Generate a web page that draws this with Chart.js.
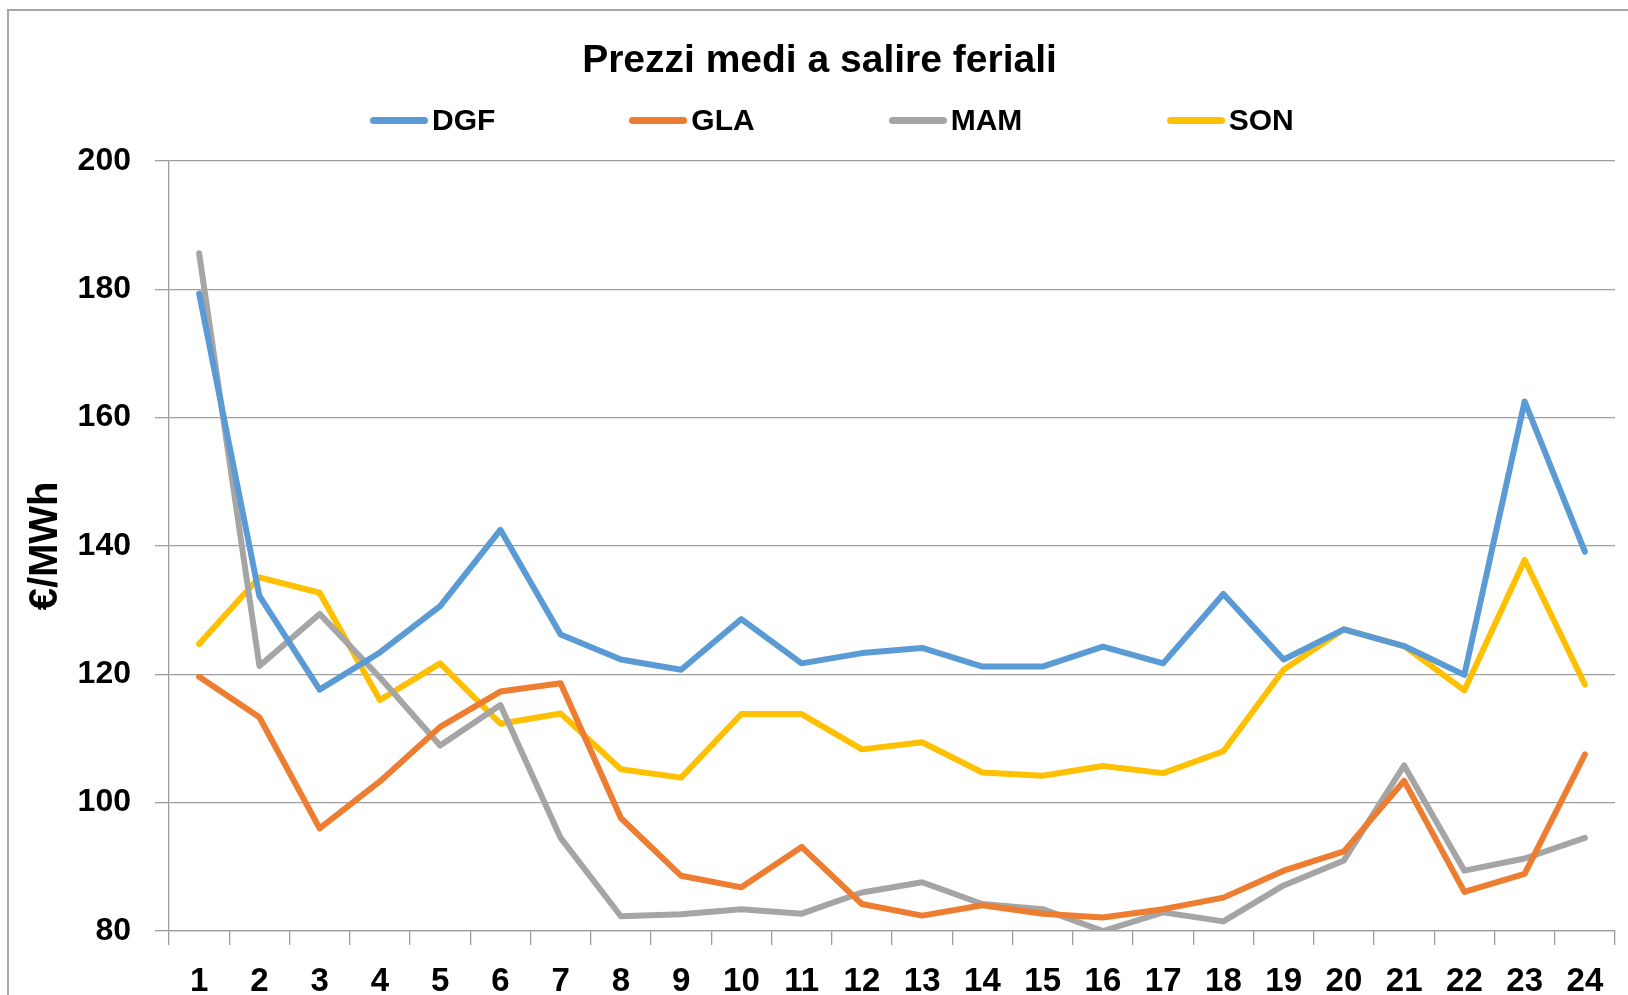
<!DOCTYPE html>
<html>
<head>
<meta charset="utf-8">
<script src="https://cdn.jsdelivr.net/npm/chart.js@4.4.1/dist/chart.umd.min.js"></script>
<style>
  html, body { margin: 0; padding: 0; background: #ffffff; }
  #wrap { position: relative; width: 1628px; height: 995px; overflow: hidden; }
  #legend { position: absolute; left: 370px; top: 105px; display: flex; gap: 134px; align-items: center;
            font-family: "Liberation Sans", Arial, sans-serif; font-weight: bold; font-size: 30px; color: #000; }
  .item { display: flex; align-items: center; gap: 4px; line-height: 1; }
  .item:nth-child(3) .txt { min-width: 82px; }
  .swatch { width: 58px; height: 7px; border-radius: 4px; }
</style>
</head>
<body>
<div id="wrap">
  <canvas id="c" width="1628" height="995"></canvas>
  <div id="legend"></div>
</div>
<script>
const hours = ['1','2','3','4','5','6','7','8','9','10','11','12','13','14','15','16','17','18','19','20','21','22','23','24'];
const seriesNames = ['DGF', 'GLA', 'MAM', 'SON'];
const seriesColors = ['#5B9BD5', '#ED7D31', '#A5A5A5', '#FFC000'];
const dgf = [179.3, 132.2, 117.6, 123.4, 130.6, 142.5, 126.2, 122.3, 120.7, 128.6, 121.7, 123.3, 124.1, 121.2, 121.2, 124.3, 121.7, 132.5, 122.3, 127.0, 124.4, 119.9, 162.5, 139.1];
const gla = [119.6, 113.3, 96.0, 103.3, 111.8, 117.3, 118.6, 97.6, 88.6, 86.8, 93.1, 84.2, 82.4, 84.0, 82.7, 82.1, 83.4, 85.2, 89.4, 92.4, 103.4, 86.1, 88.9, 107.5];
const mam = [185.6, 121.3, 129.4, 119.5, 108.9, 115.2, 94.5, 82.3, 82.6, 83.4, 82.7, 86.0, 87.6, 84.2, 83.4, 80.0, 82.9, 81.5, 87.1, 91.0, 105.8, 89.4, 91.3, 94.5];
const son = [124.7, 135.1, 132.7, 116.0, 121.7, 112.3, 113.9, 105.2, 103.9, 113.8, 113.8, 108.3, 109.4, 104.7, 104.2, 105.7, 104.6, 108.0, 120.7, 127.0, 124.4, 117.5, 137.8, 118.4];
const yMin = 80, yMax = 200, yStep = 20;
const titleText = 'Prezzi medi a salire feriali';
const yTitle = '€/MWh';

const seriesValues = [dgf, gla, mam, son];
const gridColor = '#9e9e9e';

const frame = {
  id: 'frame',
  afterDraw(chart) {
    const ctx = chart.ctx;
    ctx.save();
    ctx.strokeStyle = '#a6a6a6';
    ctx.lineWidth = 2;
    ctx.strokeRect(8, 10, 3000, 3000);
    ctx.restore();
  }
};

const chart = new Chart(document.getElementById('c'), {
  type: 'line',
  data: {
    labels: hours,
    datasets: seriesNames.map((n, i) => ({
      label: n,
      data: seriesValues[i],
      borderColor: seriesColors[i],
      backgroundColor: seriesColors[i],
      borderWidth: 6,
      pointRadius: 0,
      pointHoverRadius: 0,
      tension: 0,
      borderCapStyle: 'round',
      borderJoinStyle: 'round',
      clip: 0
    }))
  },
  options: {
    responsive: false,
    animation: false,
    events: [],
    layout: { padding: { left: 24, right: 13, top: 0, bottom: 0 } },
    plugins: {
      legend: { display: false },
      tooltip: { enabled: false },
      title: {
        display: true,
        text: titleText,
        color: '#000',
        font: { family: '"Liberation Sans", Arial, sans-serif', size: 39, weight: 'bold', lineHeight: 1.2 },
        padding: { top: 38, bottom: 76 }
      }
    },
    scales: {
      x: {
        offset: true,
        grid: { offset: true, drawOnChartArea: false, drawTicks: true, tickLength: 14, color: gridColor, lineWidth: 1.3 },
        border: { display: true, color: gridColor, width: 1.3 },
        ticks: { color: '#000', padding: 17, maxRotation: 0, autoSkip: false,
                 font: { family: '"Liberation Sans", Arial, sans-serif', size: 33, weight: 'bold' } },
        afterFit(scale) { scale.height = 64; }
      },
      y: {
        min: yMin, max: yMax,
        ticks: { stepSize: yStep, color: '#000', padding: 24,
                 font: { family: '"Liberation Sans", Arial, sans-serif', size: 32, weight: 'bold' } },
        grid: { color: gridColor, lineWidth: 1.3, tickLength: 14 },
        border: { display: true, color: gridColor, width: 1.3 },
        title: { display: true, text: yTitle, color: '#000', padding: { top: 2, bottom: 0 },
                 font: { family: '"Liberation Sans", Arial, sans-serif', size: 40, weight: 'bold', lineHeight: 1.0 } },
        afterFit(scale) { scale.width = 145; }
      }
    }
  },
  plugins: [frame]
});

const legendEl = document.getElementById('legend');
chart.data.datasets.forEach(ds => {
  const item = document.createElement('div');
  item.className = 'item';
  const sw = document.createElement('span');
  sw.className = 'swatch';
  sw.style.background = ds.borderColor;
  const tx = document.createElement('span');
  tx.className = 'txt';
  tx.textContent = ds.label;
  item.appendChild(sw);
  item.appendChild(tx);
  legendEl.appendChild(item);
});
</script>
</body>
</html>
